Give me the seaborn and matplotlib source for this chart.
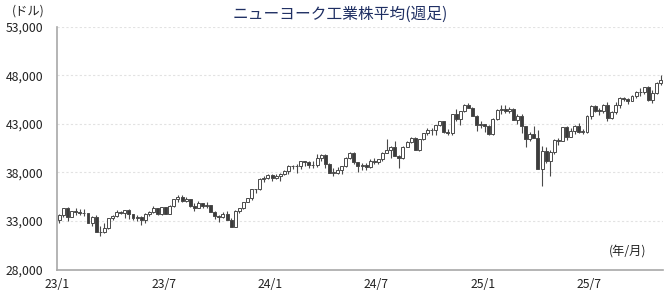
import matplotlib
matplotlib.use("Agg")
import matplotlib.pyplot as plt
import seaborn as sns
import pandas as pd
import numpy as np

# Weekly candles (week starting dates), Jan 2023 - Oct 2025
weeks = pd.date_range("2023-01-02", periods=148, freq="W-MON")

opens = [
    33148, 33631, 34303, 33375, 33978, 33926, 33869, 33827, 32817, 33391,
    31910, 31862, 32238, 33274, 33485, 33886, 33809, 34098, 33674, 33301,
    33427, 33093, 33763, 33877, 34299, 33727, 34408, 33735, 34509, 35228,
    35459, 35066, 35281, 34501, 34346, 34838, 34577, 34618, 33964, 33508,
    33407, 33670, 33127, 32418, 34061, 34283, 34947, 35390, 36246, 36248,
    37306, 37386,
    37690, 37466, 37593, 37863, 38109, 38654, 38671, 38628, 39131, 39087,
    38723, 38715, 39475, 39807, 38904, 37983, 37986, 38240, 38676, 39513,
    40004, 39070, 38686, 38799, 38589, 39150, 39119, 39375, 40001, 40288,
    40589, 39737, 39498, 40660, 41175, 41563, 40345, 41394, 42063, 42313,
    42352, 42864, 43275, 42114, 42052, 43989, 43445, 44297, 44911, 44643,
    43828, 42840,
    42992, 42732, 41938, 43488, 44424, 44545, 44303, 44546, 43428, 43841,
    42802, 41488, 41985, 41584, 38315, 40213, 39142, 40114, 41317, 41249,
    42655, 41603, 42270, 42763, 42198, 42206, 43819, 44828, 44371, 44342,
    44902, 43589, 44176, 44946, 45632, 45545, 45401, 45834, 46315, 46247,
    46758, 45480, 46191, 47207,
]
highs = [
    33700, 34342, 34400, 34020, 34335, 34252, 34246, 33830, 33460, 33573,
    32460, 32800, 33274, 33660, 34082, 34020, 34104, 34257, 33700, 33653,
    33500, 33800, 34000, 34588, 34300, 34450, 34470, 34630, 35280, 35680,
    35680, 35445, 35300, 34800, 35070, 34850, 34980, 34680, 34000, 33600,
    33900, 34000, 33350, 34100, 34300, 35000, 35400, 36300, 36300, 37400,
    37650, 37800,
    37800, 37800, 37900, 38200, 38800, 38800, 38900, 39200, 39200, 39200,
    39200, 39900, 39900, 39900, 39000, 38400, 38600, 38700, 39600, 40100,
    40080, 39100, 39000, 39000, 39400, 39500, 39400, 40100, 41400, 40700,
    41200, 39800, 40700, 41200, 41600, 41600, 41400, 42100, 42600, 42600,
    42900, 43300, 43300, 42500, 44000, 44500, 44300, 45000, 45100, 44700,
    43900, 43300,
    43000, 42900, 43600, 44500, 44900, 44900, 44700, 44600, 44000, 44000,
    42800, 42200, 42800, 42400, 40700, 40600, 40300, 41400, 41500, 42700,
    42800, 42600, 42900, 43100, 42500, 43900, 44900, 44900, 44600, 45000,
    45200, 44300, 45200, 45800, 45800, 45700, 46000, 46400, 46700, 46800,
    46900, 46500, 47300, 48040,
]
lows = [
    32812, 33367, 33044, 33380, 33582, 33620, 33516, 32788, 32500, 31906,
    31429, 31805, 32200, 33100, 33380, 33700, 33300, 33235, 33100, 32950,
    32586, 32810, 33500, 33800, 33650, 33600, 33700, 33700, 34400, 35000,
    35000, 34990, 34400, 34000, 34350, 34360, 34350, 33900, 33200, 32850,
    33300, 33100, 32327, 32400, 33800, 34200, 34900, 35200, 35900, 36200,
    37000, 37300,
    37100, 37300, 37100, 37700, 37800, 38300, 37900, 38300, 38700, 38500,
    38500, 38600, 39200, 38500, 37900, 37600, 37800, 37800, 38600, 39400,
    38900, 38000, 38200, 38200, 38500, 38900, 38900, 39200, 40000, 39500,
    39700, 38400, 39400, 40600, 41000, 40300, 40200, 41300, 41900, 41900,
    41900, 42800, 42100, 41800, 41900, 43300, 42900, 44200, 44600, 43800,
    42300, 42600,
    42200, 41800, 41800, 43400, 44000, 44100, 44100, 43400, 43000, 42100,
    40600, 41200, 41500, 38300, 36611, 39000, 37600, 39900, 40800, 41200,
    41300, 41600, 42000, 42100, 42000, 42100, 43500, 44200, 43900, 44100,
    43300, 43500, 44000, 44600, 45300, 45000, 45300, 45700, 45900, 46100,
    45400, 45100, 46100, 47000,
]
closes = [
    33631, 34303, 33375, 33978, 33926, 33869, 33827, 32817, 33391, 31910,
    31862, 32238, 33274, 33485, 33886, 33809, 34098, 33674, 33301, 33427,
    33093, 33763, 33877, 34299, 33727, 34408, 33735, 34509, 35228, 35459,
    35066, 35281, 34501, 34346, 34838, 34577, 34618, 33964, 33508, 33407,
    33670, 33127, 32418, 34061, 34283, 34947, 35390, 36246, 36248, 37306,
    37386, 37690,
    37466, 37593, 37863, 38109, 38654, 38671, 38628, 39131, 39087, 38723,
    38715, 39475, 39807, 38904, 37983, 37986, 38240, 38676, 39513, 40004,
    39070, 38686, 38799, 38589, 39150, 39119, 39375, 40001, 40288, 40589,
    39737, 39498, 40660, 41175, 41563, 40345, 41394, 42063, 42313, 42352,
    42864, 43275, 42114, 42052, 43989, 43445, 44297, 44911, 44643, 43828,
    42840, 42992,
    42732, 41938, 43488, 44424, 44545, 44303, 44546, 43428, 43841, 42802,
    41488, 41985, 41584, 38315, 40213, 39142, 40114, 41317, 41249, 42655,
    41603, 42270, 42763, 42198, 42206, 43819, 44828, 44371, 44342, 44902,
    43589, 44176, 44946, 45632, 45545, 45401, 45834, 46315, 46247, 46758,
    45480, 46191, 47207, 47563,
]

xtick_labels = ["23/1", "23/7", "24/1", "24/7", "25/1", "25/7"]
xtick_weeks = [0, 26, 52, 78, 104, 130]
yticks = [28000, 33000, 38000, 43000, 48000, 53000]

df = pd.DataFrame({"week": weeks, "open": opens, "high": highs,
                   "low": lows, "close": closes})
df["pos"] = np.arange(len(df))
df["up"] = df["close"] >= df["open"]

sns.set_theme(style="white")
plt.rcParams["font.family"] = ["Noto Sans CJK JP", "DejaVu Sans"]

fig = plt.figure(figsize=(6.7, 2.91), dpi=100)
ax = fig.add_axes([57.3 / 670, 1 - 269.5 / 291, (662.7 - 57.3) / 670, (269.5 - 26.7) / 291])

edge = "#4a4a4a"
dark = "#3c3c3c"

# gridlines
for v in yticks[1:]:
    ax.axhline(v, color="#e2e2e2", lw=0.8, ls=(0, (2, 2)), zorder=0)

# wicks
ax.vlines(df["pos"], df["low"], df["high"], color=edge, lw=0.8, zorder=1)
# bodies
bottoms = np.minimum(df["open"], df["close"])
heights = np.abs(df["close"] - df["open"]).clip(lower=40)
colors = np.where(df["up"], "white", dark)
ax.bar(df["pos"], heights, bottom=bottoms, width=0.72, color=colors,
       edgecolor=edge, linewidth=0.7, zorder=2)

ax.set_xlim(-0.5, len(df) - 0.5)
ax.set_ylim(28000, 53000)
ax.set_yticks(yticks)
ax.set_yticklabels([f"{v:,}" for v in yticks], fontsize=8.8, color="#222222")
ax.set_xticks([w - 0.5 for w in xtick_weeks])
ax.set_xticklabels(xtick_labels, fontsize=8.8, color="#222222")
ax.tick_params(axis="x", direction="inout", length=7, width=0.8,
               color="#999999", pad=2.5)
ax.tick_params(axis="y", length=0, pad=10)

for s in ["top", "right"]:
    ax.spines[s].set_visible(False)
for s in ["left", "bottom"]:
    ax.spines[s].set_color("#a8a8a8")
    ax.spines[s].set_linewidth(1.2)
ax.set_xlabel("")
ax.set_ylabel("")

fig.text(340 / 670, 1 - 14 / 291, "ニューヨーク工業株平均(週足)", ha="center",
         va="center", fontsize=11.3, color="#1f2f63")
fig.text(28 / 670, 1 - 11 / 291, "(ドル)", ha="center", va="center",
         fontsize=8.8, color="#222222")
fig.text(628 / 670, 1 - 251 / 291, "(年/月)", ha="center", va="center",
         fontsize=8.8, color="#222222")

fig.savefig("out.png", dpi=100)
